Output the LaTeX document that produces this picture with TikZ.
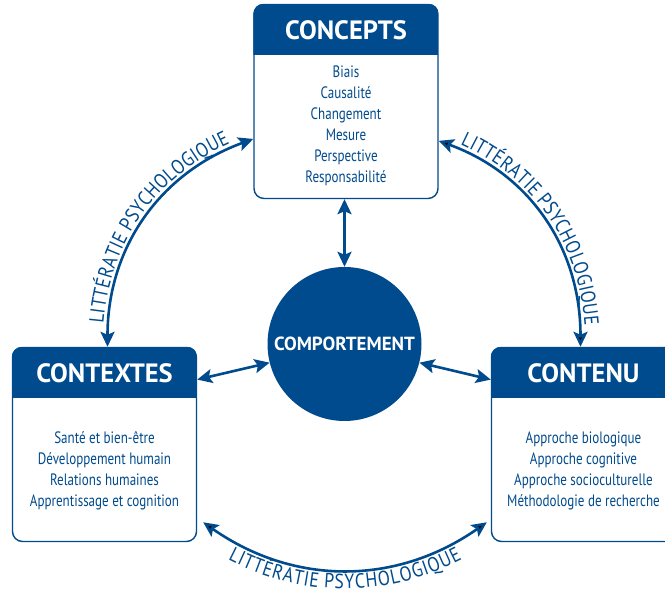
\documentclass[tikz,border=0pt]{standalone}
\usepackage{fontspec}
\setmainfont{PT Sans}
\newfontfamily\itemfont{PT Sans}[FakeStretch=0.79]
\newfontfamily\arcfont{PT Sans}[FakeStretch=0.86]
\usetikzlibrary{arrows.meta,decorations.text,calc}
\definecolor{brand}{HTML}{004B8D}
\begin{document}
\begin{tikzpicture}[x=1pt,y=1pt,
  box/.style={draw=brand, line width=1.4pt, rounded corners=10pt, minimum width=184pt, minimum height=194pt, inner sep=0pt},
  headtxt/.style={text=white, font=\bfseries\fontsize{26.5}{30}\selectfont, inner sep=0pt},
  items/.style={text=brand, align=center, font=\itemfont\fontsize{16.5}{21}\selectfont, inner sep=0pt},
  arr/.style={draw=brand, line width=2.6pt, >={Stealth[length=15pt,width=14pt,inset=3pt]}, <->},
  arclabel/.style={decorate, decoration={text along path, text={|\arcfont\fontsize{20.5}{24}\selectfont|LITTÉRATIE PSYCHOLOGIQUE}, text align=center, text color=brand, raise=#1}}
]
\clip (0,0) rectangle (665,591);
\fill[white] (0,0) rectangle (665,591);
% boxes
\node[box] (cpt) at (346,489.5) {};
\node[box] (ctx) at (104.5,146.5) {};
\node[box] (cnt) at (583.5,146.5) {};
\foreach \b in {cpt,ctx,cnt}{
  \begin{scope}
    \clip[rounded corners=10pt] (\b.north west) rectangle (\b.south east);
    \fill[brand] (\b.north west) rectangle ([yshift=-51pt]\b.north east);
  \end{scope}
}
\node[headtxt] (cpth) at ([yshift=-26pt]cpt.north) {CONCEPTS};
\node[headtxt] (ctxh) at ([yshift=-26pt]ctx.north) {CONTEXTES};
\node[headtxt] (cnth) at ([yshift=-26pt]cnt.north) {CONTENU};
\node[items] (cpti) at ([yshift=-122.5pt]cpt.north) {Biais\\Causalité\\Changement\\Mesure\\Perspective\\Responsabilité};
\node[items] (ctxi) at ([yshift=-124pt]ctx.north) {Santé et bien-être\\Développement humain\\Relations humaines\\Apprentissage et cognition};
\node[items] (cnti) at ([yshift=-124pt]cnt.north) {Approche biologique\\Approche cognitive\\Approche socioculturelle\\Méthodologie de recherche};
% centre
\node[circle, fill=brand, minimum size=154pt, inner sep=0pt, text=white, font=\bfseries\fontsize{19}{21}\selectfont] (comp) at (344.5,247) {COMPORTEMENT};
% straight arrows
\draw[arr] ([xshift=-1.5pt]cpt.south) -- (comp.north);
\draw[arr] (ctx.35) -- (comp.194);
\draw[arr] (comp.346) -- (cnt.145);
% arcs
\draw[arr] ([xshift=3pt]ctx.north) to[out=90,in=200] (cpt.202);
\path[arclabel=5pt] ([xshift=3pt]ctx.north) to[out=90,in=200] (cpt.202);
\draw[arr] (cpt.337) to[out=-20,in=90] ([xshift=-3pt]cnt.north);
\path[arclabel=5pt] (cpt.337) to[out=-20,in=90] ([xshift=-3pt]cnt.north);
\draw[arr] ([xshift=6pt]ctx.-40) to[out=-35,in=215] ([xshift=-4pt]cnt.220);
\path[arclabel=-19pt] ([xshift=6pt]ctx.-40) to[out=-35,in=215] ([xshift=-4pt]cnt.220);
\end{tikzpicture}
\end{document}
